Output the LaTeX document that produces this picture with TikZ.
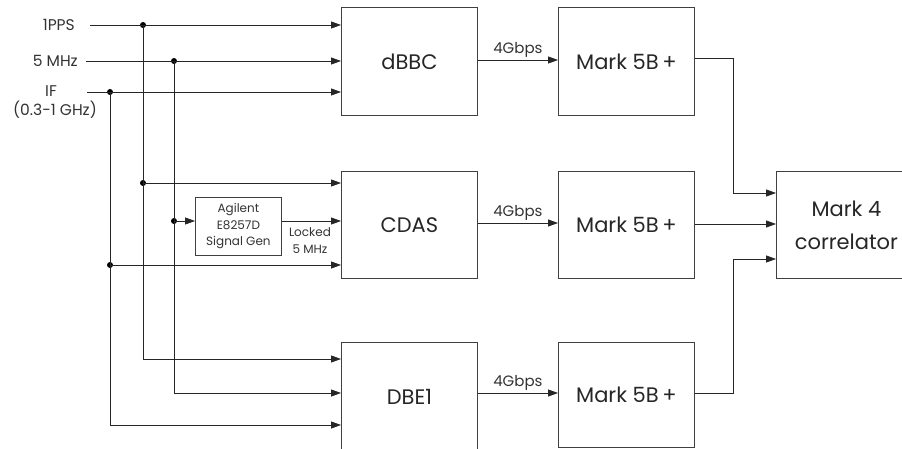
\documentclass[tikz,border=0pt]{standalone}
\usepackage{fontspec}
\setmainfont{Poppins}
\usetikzlibrary{arrows.meta}
\begin{document}
\begin{tikzpicture}[x=1pt,y=-1pt,
  box/.style={draw=black!75, line width=0.8pt, minimum width=136pt, minimum height=108pt, inner sep=0pt, anchor=north west, font=\fontsize{21}{24}\selectfont, text=black!85},
  wire/.style={line width=0.8pt, draw=black!85},
  arr/.style={wire, -{Triangle[length=10pt,width=7pt]}},
  lbl/.style={font=\fontsize{15.5}{17}\selectfont, inner sep=0pt, text=black!80},
  small/.style={font=\fontsize{12}{16.5}\selectfont, inner sep=0pt, text=black!80, align=center},
  rate/.style={font=\fontsize{15}{17}\selectfont, inner sep=0pt, text=black!80},
  dot/.style={circle, fill=black, inner sep=0pt, minimum size=6pt}]
\useasboundingbox (0,0) rectangle (902,449);
\clip (0,0) rectangle (902,449);

% boxes
\node[box] (dbbc) at (341,7) {dBBC};
\node[box] (m1) at (558,7) {Mark 5B\,+};
\node[box, minimum height=107pt] (cdas) at (341,171) {CDAS};
\node[box, minimum height=107pt] (m2) at (558,171) {Mark 5B\,+};
\node[box, minimum height=110pt] (dbe) at (341,342) {DBE1};
\node[box, minimum height=105pt] (m3) at (558,342) {Mark 5B\,+};
\node[box, minimum width=140pt, minimum height=107pt, align=center, font=\fontsize{21}{33}\selectfont] (corr) at (776,171) {Mark 4\\correlator};
\node[draw=black!75, line width=0.8pt, minimum width=86pt, minimum height=58pt, anchor=north west, small] (agi) at (195,197) {Agilent\\E8257D\\Signal Gen};

% input labels
\node[lbl, anchor=east] (t1) at (75,25) {1PPS};
\node[lbl, anchor=east] (t2) at (78,61) {5 MHz};
\node[lbl] (t3) at (51,91) {IF};
\node[lbl] (t3b) at (55,110) {(0.3-1 GHz)};

\coordinate (s1) at (90,25);
\coordinate (s2) at (86,61);
\coordinate (s3) at (87,92);

% dots
\node[dot] (d1) at (143,25) {};
\node[dot] (d2) at (174,61) {};
\node[dot] (d3) at (110,92) {};
\node[dot] (c1) at (143,183) {};
\node[dot] (c2) at (174,221) {};
\node[dot] (c3) at (110,265) {};

\coordinate (e1) at (143,359);
\coordinate (e2) at (174,393);
\coordinate (e3) at (110,425);

% inputs to dBBC
\draw[arr] (s1) -- (dbbc.west |- s1);
\draw[arr] (s2) -- (dbbc.west |- s2);
\draw[arr] (s3) -- (dbbc.west |- s3);

% verticals and inputs to DBE1
\draw[arr] (d1.center) -- (e1) -- (dbe.west |- e1);
\draw[arr] (d2.center) -- (e2) -- (dbe.west |- e2);
\draw[arr] (d3.center) -- (e3) -- (dbe.west |- e3);

% inputs to CDAS
\draw[arr] (c1.center) -- (cdas.west |- c1);
\draw[arr] (c2.center) -- (agi.west |- c2);
\draw[arr] (agi.east |- c2) -- (cdas.west |- c2);
\node[small, align=center, font=\fontsize{12}{17}\selectfont] (lk) at (310,241) {Locked\\5 MHz};
\draw[arr] (c3.center) -- (cdas.west |- c3);

% 4Gbps links
\draw[arr] (dbbc.east |- 0,60) -- (m1.west |- 0,60) node[midway, above=2pt, rate] (g1) {4Gbps};
\draw[arr] (cdas.east |- 0,223) -- (m2.west |- 0,223) node[midway, above=2pt, rate] (g2) {4Gbps};
\draw[arr] (dbe.east |- 0,393) -- (m3.west |- 0,393) node[midway, above=2pt, rate] (g3) {4Gbps};

% to correlator
\coordinate (k1) at (733,58);
\coordinate (k3) at (733,393);
\draw[arr] (m1.east |- k1) -- (k1) -- (k1 |- 0,193) -- (corr.west |- 0,193);
\draw[arr] (m2.east |- 0,224) -- (corr.west |- 0,224);
\draw[arr] (m3.east |- k3) -- (k3) -- (k3 |- 0,259) -- (corr.west |- 0,259);
\end{tikzpicture}
\end{document}
